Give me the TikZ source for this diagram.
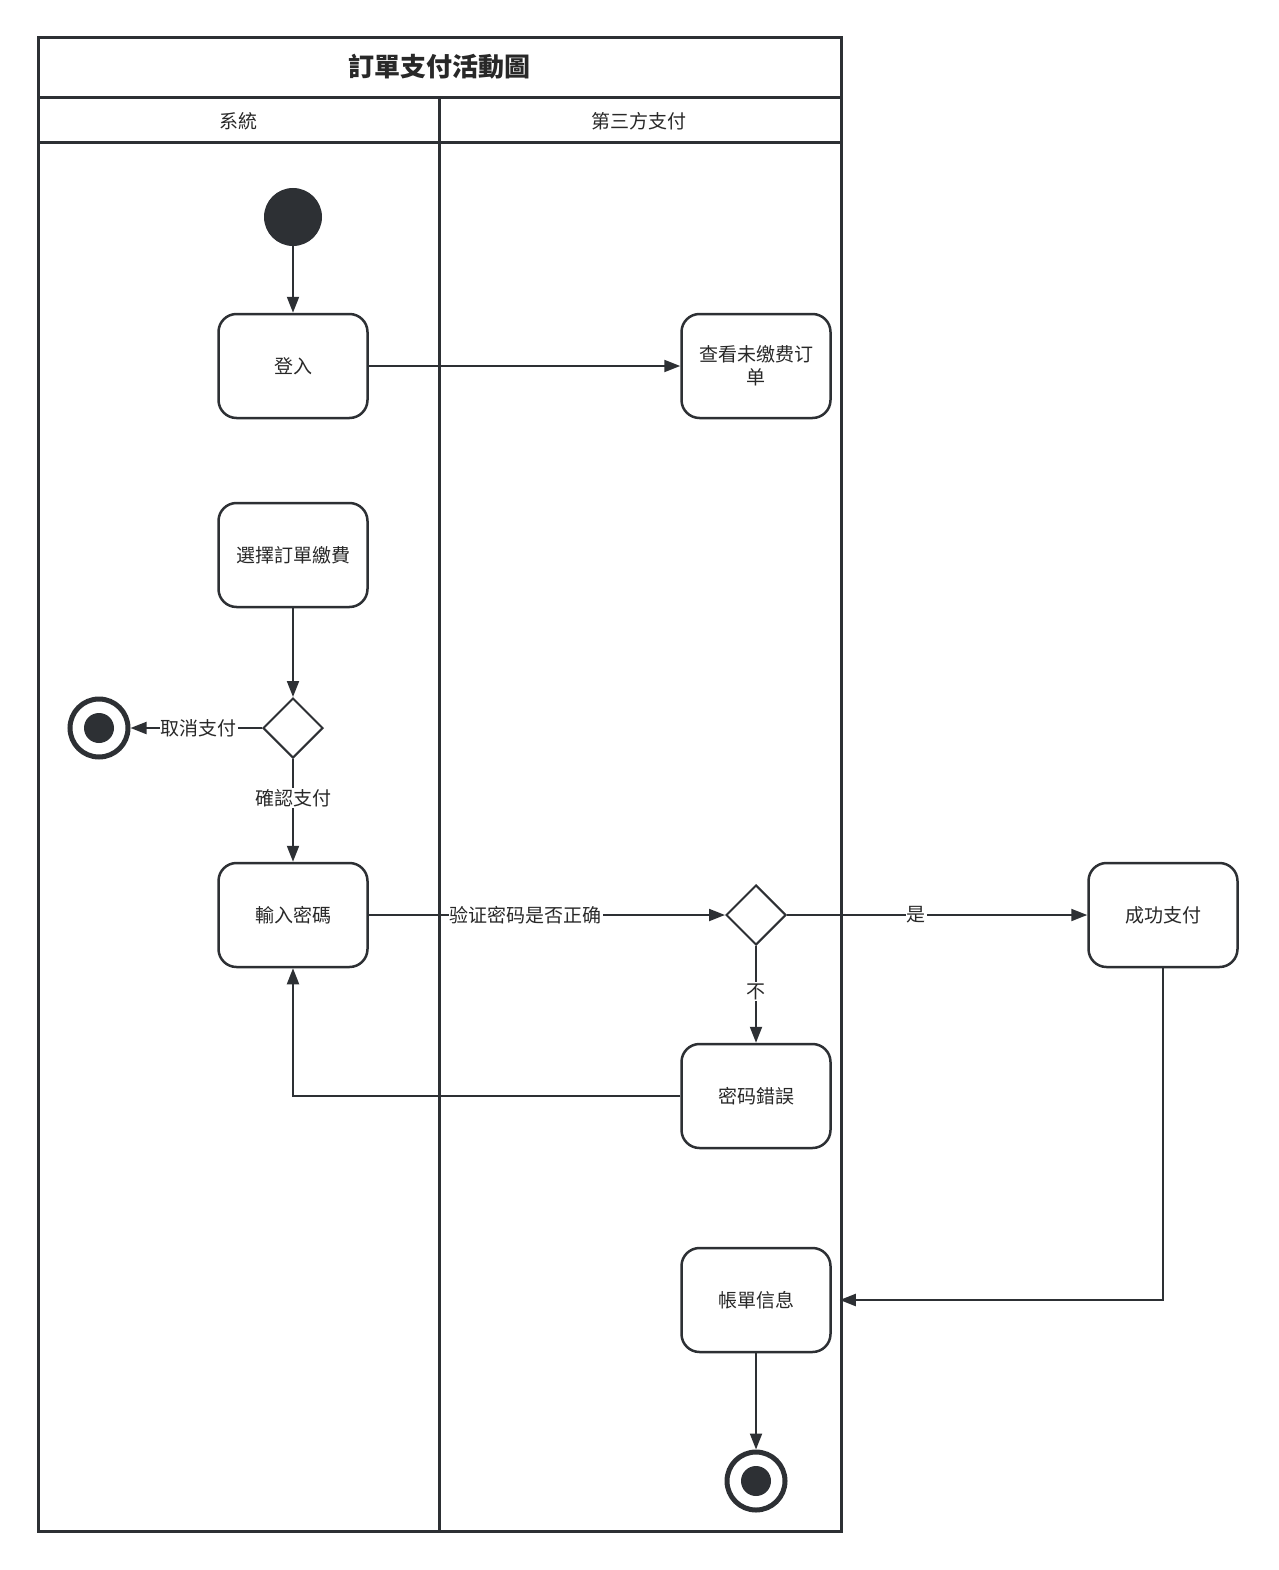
\documentclass[tikz,border=0pt]{standalone}
\usepackage{fontspec}
\setmainfont{Noto Sans CJK SC}
\usetikzlibrary{arrows.meta,shapes.geometric}
\definecolor{ink}{RGB}{45,48,52}
\definecolor{txt}{RGB}{40,40,40}
\tikzset{
  act/.style={draw=ink, line width=2.5pt, rounded corners=18pt, minimum width=149pt, minimum height=104pt, align=center, text=txt, font=\fontsize{19}{23}\selectfont, fill=white},
  dec/.style={draw=ink, line width=2pt, diamond, minimum width=60pt, minimum height=60pt, inner sep=0pt, fill=white},
  startnode/.style={circle, fill=ink, minimum size=58pt, inner sep=0pt},
  endnode/.style={circle, draw=ink, line width=5pt, minimum size=58pt, inner sep=0pt, fill=white},
  flow/.style={draw=ink, line width=2pt, -{Triangle[length=16pt,width=12pt]}},
  lbl/.style={fill=white, text=txt, font=\fontsize{19}{23}\selectfont, inner sep=1pt},
  pool/.style={draw=ink, line width=3pt},
  hdr/.style={text=txt, font=\fontsize{19}{23}\selectfont}
}
\begin{document}
\begin{tikzpicture}[x=1pt,y=-1pt]
\useasboundingbox (0,0) rectangle (1278,1570);
% pool
\draw[pool] (38,38) rectangle (841,1531);
\draw[pool] (38,98) -- (841,98);
\draw[pool] (38,143) -- (841,143);
\draw[pool] (439,98) -- (439,1531);
\node[font=\fontsize{26}{30}\selectfont\bfseries, text=txt] (title) at (439,67) {訂單支付活動圖};
\node[hdr] (lane1) at (238,121) {系統};
\node[hdr] (lane2) at (639,121) {第三方支付};
% nodes
\node[startnode] (start) at (293,217) {};
\node[act] (login) at (293,366) {登入};
\node[act] (view) at (756,366) {查看未缴费订\\单};
\node[act] (select) at (293,555) {選擇訂單繳費};
\node[dec] (d1) at (293,728) {};
\node[endnode] (end1) at (99,728) {};
\fill[ink] (end1.center) circle (15pt);
\node[act] (pwd) at (293,915) {輸入密碼};
\node[dec] (d2) at (756,915) {};
\node[act] (ok) at (1163,915) {成功支付};
\node[act] (err) at (756,1096) {密码錯誤};
\node[act] (bill) at (756,1300) {帳單信息};
\node[endnode] (end2) at (756,1481) {};
\fill[ink] (end2.center) circle (15pt);
\coordinate (billin) at ([xshift=8pt]bill.east);
% connectors
\draw[flow] (start) -- (login);
\draw[flow] (login) -- (view);
\draw[flow] (select) -- (d1);
\draw[flow] (d1) -- node[lbl, pos=0.48] {取消支付} (end1);
\draw[flow] (d1) -- node[lbl, pos=0.38] {確認支付} (pwd);
\draw[flow] (pwd) -- node[lbl, pos=0.44] {验证密码是否正确} (d2);
\draw[flow] (d2) -- node[lbl, pos=0.43] {是} (ok);
\draw[flow] (d2) -- node[lbl, pos=0.47] {不} (err);
\draw[flow] (err.west) -| (pwd.south);
\draw[flow] (ok.south) |- (billin);
\draw[flow] (bill) -- (end2);
\end{tikzpicture}
\end{document}
